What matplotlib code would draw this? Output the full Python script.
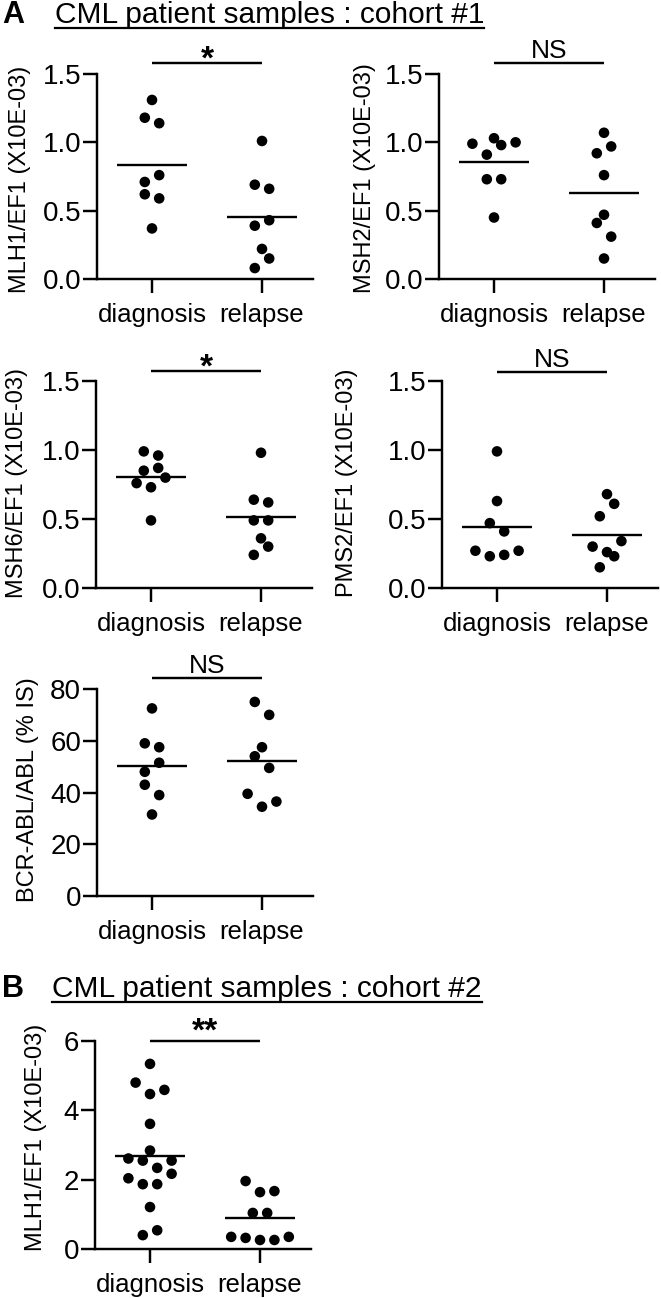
import numpy as np
import matplotlib
matplotlib.use("Agg")
import matplotlib.pyplot as plt
from matplotlib.lines import Line2D
from matplotlib.transforms import offset_copy

plt.rcParams['font.family'] = ['Liberation Sans', 'DejaVu Sans']

# ---------------- data ----------------
groups = ['diagnosis', 'relapse']

mlh1_c1_diag = [1.31, 1.18, 1.14, 0.71, 0.76, 0.62, 0.59, 0.37]
mlh1_c1_rel = [1.01, 0.69, 0.66, 0.39, 0.43, 0.22, 0.08, 0.15]

msh2_diag = [1.03, 0.99, 0.91, 0.98, 1.00, 0.73, 0.73, 0.45]
msh2_rel = [1.07, 0.92, 0.97, 0.76, 0.47, 0.41, 0.31, 0.15]

msh6_diag = [0.99, 0.96, 0.85, 0.87, 0.76, 0.73, 0.80, 0.49]
msh6_rel = [0.98, 0.64, 0.62, 0.49, 0.49, 0.36, 0.24, 0.30]

pms2_diag = [0.99, 0.63, 0.47, 0.41, 0.27, 0.23, 0.24, 0.27]
pms2_rel = [0.68, 0.52, 0.61, 0.30, 0.26, 0.34, 0.15, 0.23]

bcrabl_diag = [72.5, 59.0, 57.5, 48.0, 51.5, 43.0, 39.0, 31.5]
bcrabl_rel = [75.0, 70.0, 57.5, 54.0, 49.5, 39.5, 34.5, 36.5]

mlh1_c2_diag = [5.34, 4.80, 4.47, 4.59, 3.61, 2.84, 2.61, 2.55, 2.34, 2.55,
                2.04, 1.87, 1.87, 2.17, 1.21, 0.40, 0.54]
mlh1_c2_rel = [1.96, 1.64, 1.67, 1.04, 1.04, 0.35, 0.32, 0.26, 0.26, 0.35]

ticks_ratio = [0.0, 0.5, 1.0, 1.5]
ticklabels_ratio = ['0.0', '0.5', '1.0', '1.5']
ticks_bcr = [0, 20, 40, 60, 80]
ticks_c2 = [0, 2, 4, 6]

ylabels = ['MLH1/EF1 (X10E-03)', 'MSH2/EF1 (X10E-03)', 'MSH6/EF1 (X10E-03)',
           'PMS2/EF1 (X10E-03)', 'BCR-ABL/ABL (% IS)', 'MLH1/EF1 (X10E-03)']
signif = ['*', 'NS', '*', 'NS', 'NS', '**']
title_a = 'CML patient samples : cohort #1'
title_b = 'CML patient samples : cohort #2'

# ---------------- figure ----------------
W, H = 661, 1298
DPI = 100
fig = plt.figure(figsize=(W / DPI, H / DPI), dpi=DPI)
LW = 1.75


def swarm_x(ax, xpos, vals, step_px=7.2, row_px=14.5):
    vals = np.asarray(vals, float)
    pts = np.column_stack([np.full(len(vals), float(xpos)), vals])
    disp = ax.transData.transform(pts)
    dy = disp[:, 1]
    order = np.argsort(dy, kind='stable')
    rows, cur = [], []
    for i in order:
        if cur and dy[i] - dy[cur[0]] > row_px:
            rows.append(cur)
            cur = []
        cur.append(i)
    rows.append(cur)
    xd = np.zeros(len(vals))
    for r in rows:
        r = sorted(r)
        n = len(r)
        for k, i in enumerate(r):
            xd[i] = disp[i, 0] + (2 * k - (n - 1)) * step_px
    return ax.transData.inverted().transform(np.column_stack([xd, dy]))[:, 0]


def panel(tick0, top, bottom, diag, rel, yticks, yticklabels, ylabel,
          lab_x, lab_y, sig, sig_dy, txt_dy, sig_size, sig_bold):
    ppu = 110.0
    left = tick0 - 0.5 * ppu
    width = 1.96 * ppu
    ax = fig.add_axes([left / W, 1 - bottom / H, width / W, (bottom - top) / H])
    ax.set_xlim(-0.5, 1.46)
    ax.set_ylim(yticks[0], yticks[-1])
    for s in ['top', 'right']:
        ax.spines[s].set_visible(False)
    for s in ['left', 'bottom']:
        ax.spines[s].set_linewidth(LW)
    ax.set_xticks([0, 1])
    ax.set_xticklabels(groups, fontsize=18.5)
    ax.set_yticks(yticks)
    ax.set_yticklabels(yticklabels, fontsize=20)
    ax.tick_params(axis='both', length=10, width=LW, direction='out')
    ax.tick_params(axis='x', pad=7)
    ax.tick_params(axis='y', pad=1.5)
    for xi, vals in enumerate([diag, rel]):
        xs = swarm_x(ax, xi, vals)
        ax.scatter(xs, vals, s=58, color='black', edgecolors='none',
                   zorder=3, clip_on=False)
        m = np.mean(vals)
        ax.plot([xi - 0.32, xi + 0.32], [m, m], color='black', lw=1.7,
                solid_capstyle='butt', zorder=2, clip_on=False)
    ytop = yticks[-1]
    tr = offset_copy(ax.transData, fig=fig, y=sig_dy * 72 / DPI, units='points')
    ax.plot([0, 1], [ytop, ytop], color='black', lw=LW, transform=tr,
            clip_on=False, solid_capstyle='butt')
    tr2 = offset_copy(ax.transData, fig=fig, y=(sig_dy + txt_dy) * 72 / DPI,
                      units='points')
    ax.text(0.5, ytop, sig, transform=tr2, ha='center', va='baseline',
            fontsize=sig_size, fontweight='bold' if sig_bold else 'normal')
    fig.text(lab_x / W, 1 - lab_y / H, ylabel, rotation=90,
             rotation_mode='anchor', ha='center', va='baseline', fontsize=17)
    return ax


panel(152, 74, 279, mlh1_c1_diag, mlh1_c1_rel, ticks_ratio, ticklabels_ratio,
      ylabels[0], 26, 179, signif[0], 11, -6, 24, True)
panel(494, 74, 279, msh2_diag, msh2_rel, ticks_ratio, ticklabels_ratio,
      ylabels[1], 371, 178, signif[1], 11, 5, 19, False)
panel(151, 381, 588, msh6_diag, msh6_rel, ticks_ratio, ticklabels_ratio,
      ylabels[2], 23, 483, signif[2], 10, -6, 24, True)
panel(497, 381, 588, pms2_diag, pms2_rel, ticks_ratio, ticklabels_ratio,
      ylabels[3], 353, 483, signif[3], 9, 5, 19, False)
panel(152, 689, 896, bcrabl_diag, bcrabl_rel, ticks_bcr,
      [str(t) for t in ticks_bcr], ylabels[4], 34, 790, signif[4], 11, 5, 19, False)
panel(150, 1041, 1249, mlh1_c2_diag, mlh1_c2_rel, ticks_c2,
      [str(t) for t in ticks_c2], ylabels[5], 42, 1137, signif[5], 0, 0, 24, True)

# ---------------- titles ----------------
def title(letter, text, x_text, base_y):
    fig.text(2 / W, 1 - base_y / H, letter, fontsize=22, fontweight='bold',
             va='baseline', ha='left')
    t = fig.text(x_text / W, 1 - base_y / H, text, fontsize=21.5,
                 va='baseline', ha='left')
    fig.canvas.draw()
    bb = t.get_window_extent()
    uy = (H - base_y - 5) / H
    fig.add_artist(Line2D([bb.x0 / W, bb.x1 / W], [uy, uy], color='black',
                          lw=1.6, transform=fig.transFigure))

title('A', title_a, 55, 23)
title('B', title_b, 52, 997)

fig.savefig('out.png', dpi=DPI)
